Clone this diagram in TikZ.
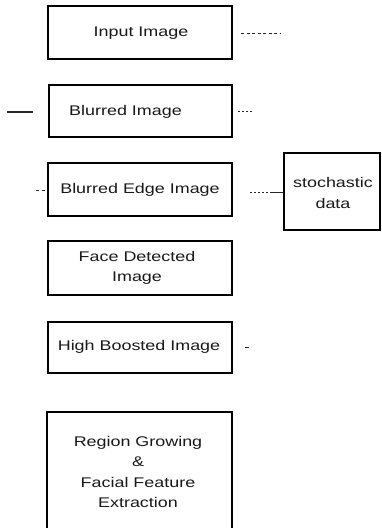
\documentclass[tikz,border=0pt]{standalone}
\usepackage{fontspec}
\newfontfamily\diafont[FakeStretch=1.28]{Liberation Sans}
\begin{document}
\begin{tikzpicture}[x=1pt,y=-1pt,
  box/.style={draw=black, line width=1.2pt, inner sep=0pt, fill=none},
  txt/.style={font=\diafont\fontsize{14}{20.5}\selectfont, align=center, inner sep=0pt, text=black!90},
  stub/.style={line width=0.9pt, black!85},
  dsh/.style={stub, dash pattern=on 3pt off 2.5pt},
  dtt/.style={stub, dash pattern=on 1.5pt off 2.5pt}]
\fill[white] (0,0) rectangle (381,528);
\useasboundingbox (0,0) rectangle (381,528);
\begin{scope}
\clip (0,0) rectangle (381,528);
% boxes
\node[box, minimum width=184pt, minimum height=53pt] (b1) at (140,32.5) {};
\node[box, minimum width=183pt, minimum height=52pt] (b2) at (140.5,111) {};
\node[box, minimum width=184pt, minimum height=53pt] (b3) at (140,189.5) {};
\node[box, minimum width=96pt, minimum height=77pt] (sd) at (332,191.5) {};
\node[box, minimum width=184pt, minimum height=54pt] (b4) at (140,268) {};
\node[box, minimum width=184pt, minimum height=51pt] (b5) at (140,347.5) {};
\node[box, minimum width=185pt, minimum height=123pt] (b6) at (139.5,473.5) {};
% texts
\node[txt] (t1) at (141,33) {Input Image};
\node[txt] (t2) at (125.5,112) {Blurred Image};
\node[txt] (t3) at (140,190) {Blurred Edge Image};
\node[txt] (tsd) at (333,193) {stochastic\\data};
\node[txt] (t4) at (137,268) {Face Detected\\Image};
\node[txt] (t5) at (139,347) {High Boosted Image};
\node[txt] (t6) at (138,472) {Region Growing\\\&\\Facial Feature\\Extraction};
\end{scope}
% connector stubs
\coordinate (c1a) at (241,33);
\coordinate (c1b) at (280,33);
\draw[dsh] (c1a) -- (c1b);
\coordinate (c2a) at (7,112);
\coordinate (c2b) at (33,112);
\draw[stub, line width=1.2pt] (c2a) -- (c2b);
\coordinate (c2c) at (238,111);
\coordinate (c2d) at (254,111);
\draw[dtt] (c2c) -- (c2d);
\coordinate (c3a) at (36,190);
\coordinate (c3b) at (45,190);
\draw[dsh] (c3a) -- (c3b);
\coordinate (c3c) at (250,192);
\coordinate (c3d) at (270,192);
\draw[dtt] (c3c) -- (c3d);
\draw[stub] (c3d) -- (sd.west |- c3d);
\coordinate (c5a) at (245,347);
\coordinate (c5b) at (249,347);
\draw[stub] (c5a) -- (c5b);
\end{tikzpicture}
\end{document}
